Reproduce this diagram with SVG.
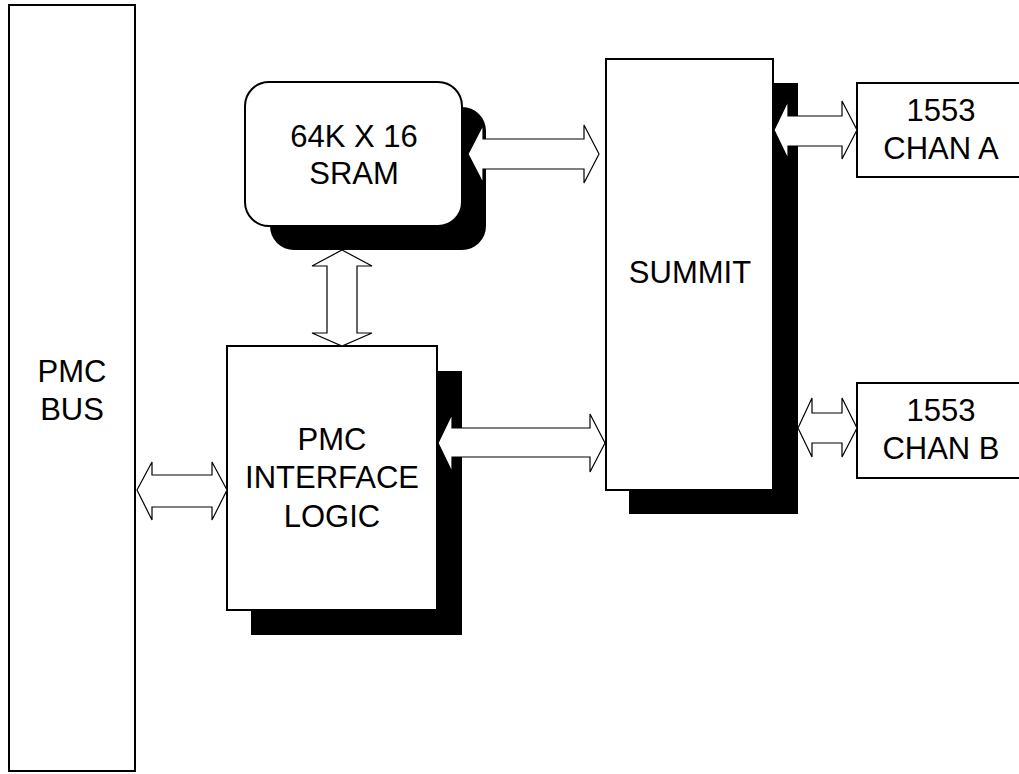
<svg xmlns="http://www.w3.org/2000/svg" width="1019" height="774" viewBox="0 0 1019 774">
<style>
.box{fill:#fff;stroke:#000;stroke-width:2}
.shadow{fill:#000;stroke:none}
.arrow{fill:#fff;stroke:#000;stroke-width:1.2;stroke-linejoin:miter}
text{font-family:"Liberation Sans",Arial,sans-serif;font-size:31px;fill:#000;text-anchor:middle}
</style>
<rect x="0" y="0" width="1019" height="774" fill="#fff"/>
<g id="pmc-bus">
<rect class="box" x="9" y="5" width="126" height="766"/>
<text x="72" y="382">PMC</text>
<text x="72" y="420">BUS</text>
</g>
<g id="sram">
<rect class="shadow" x="270" y="107" width="216" height="143" rx="24" ry="24"/>
<rect class="box" x="245" y="82" width="217" height="144" rx="24" ry="24"/>
<text x="354" y="147">64K X 16</text>
<text x="354" y="184">SRAM</text>
</g>
<g id="pmc-interface-logic">
<rect class="shadow" x="251" y="371" width="211" height="264"/>
<rect class="box" x="227" y="346" width="210" height="264"/>
<text x="332" y="450">PMC</text>
<text x="332" y="488">INTERFACE</text>
<text x="332" y="527">LOGIC</text>
</g>
<g id="summit">
<rect class="shadow" x="629" y="83" width="169" height="431"/>
<rect class="box" x="606" y="59" width="167" height="431"/>
<text x="690" y="283">SUMMIT</text>
</g>
<g id="chan-a">
<rect class="box" x="857" y="83" width="170" height="94"/>
<text x="941" y="121">1553</text>
<text x="941" y="159">CHAN A</text>
</g>
<g id="chan-b">
<rect class="box" x="857" y="383" width="170" height="95"/>
<text x="941" y="421">1553</text>
<text x="941" y="459">CHAN B</text>
</g>
<g id="connectors">
<polygon class="arrow" points="137,490 152,462 152,475 212,475 212,462 227,490 212,520 212,507 152,507 152,520"/>
<polygon class="arrow" points="438,443 452,414 452,428 590,428 590,414 605,443 590,472 590,457 452,457 452,472"/>
<polygon class="arrow" points="468,154 483,125 483,139 584,139 584,125 599,154 584,183 584,169 483,169 483,183"/>
<polygon class="arrow" points="342,250 372,266 357,266 357,333 372,333 342,346 312,333 327,333 327,266 312,266"/>
<polygon class="arrow" points="774,130 788,101 788,116 842,116 842,101 857,130 842,159 842,146 788,146 788,159"/>
<polygon class="arrow" points="798,428 812,398 812,413 842,413 842,398 857,428 842,457 842,443 812,443 812,457"/>
</g>
</svg>
